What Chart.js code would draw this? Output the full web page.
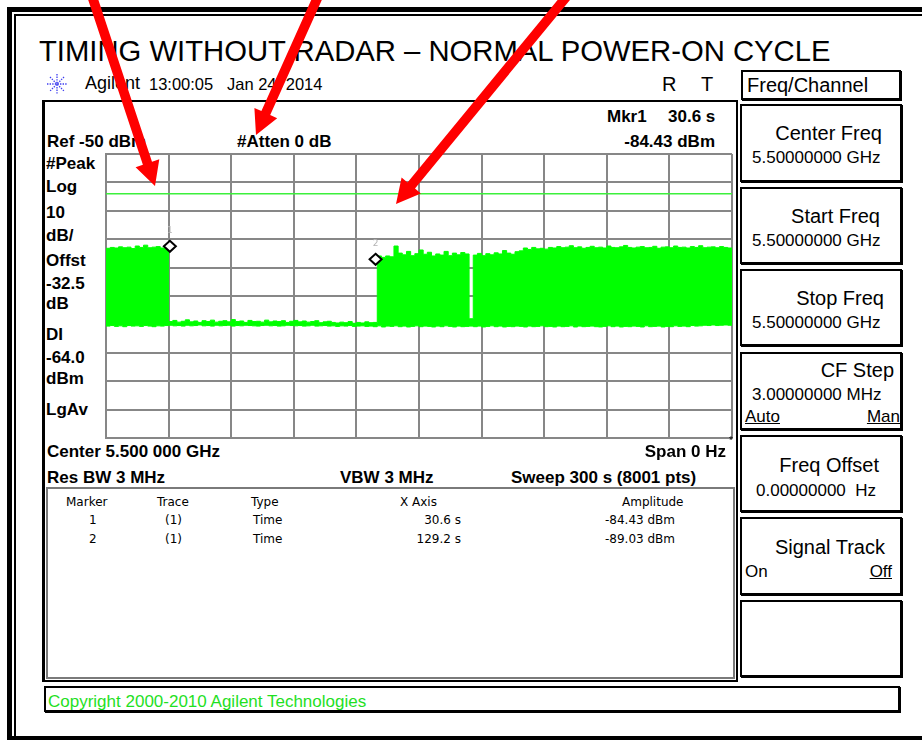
<!DOCTYPE html>
<html>
<head>
<meta charset="utf-8">
<title>Timing without radar - normal power-on cycle</title>
<script src="https://cdn.jsdelivr.net/npm/chart.js@4.4.1/dist/chart.umd.min.js"></script>
<style>
  html, body { margin: 0; padding: 0; background: #fff; overflow: hidden; width: 922px; height: 740px; }
  #page { position: relative; width: 922px; height: 740px; overflow: hidden;
          font-family: "Liberation Sans", Arial, sans-serif; color: #000; }
  .t { position: absolute; white-space: nowrap; line-height: 1; }
  .ann { font-weight: bold; font-size: 17px; }
  .tbl { font-family: "DejaVu Sans", sans-serif; font-size: 12px; }
  .kt { font-size: 20px; }
  .kv { font-size: 17px; }
  .u { text-decoration: underline; }
  .box { position: absolute; box-sizing: border-box; }
  .key { left: 740px; width: 162px; border: 2px solid #000; box-shadow: 1px 1px 0 #000; }
</style>
</head>
<body>
<div id="page">
  <!-- outer frame of the pasted screenshot -->
  <div class="box" style="left:7px;top:7px;width:915px;height:733px;border-left:5px solid #000;border-top:5px solid #000;"></div>
  <div class="box" style="left:14px;top:14px;width:908px;height:726px;border-left:2px solid #000;border-top:2px solid #000;"></div>
  <div class="box" style="left:7px;top:736px;width:915px;height:4px;background:#000;"></div>

  <div class="t" style="left:39px;top:37px;font-size:29.25px;">TIMING WITHOUT RADAR – NORMAL POWER-ON CYCLE</div>

  <svg class="t" style="left:46px;top:73px;" width="22" height="22" viewBox="0 0 22 22">
    <g stroke="#3d3df0" stroke-width="1.3" stroke-dasharray="1.4 1.2">
      <line x1="11" y1="1" x2="11" y2="21"/><line x1="1" y1="11" x2="21" y2="11"/>
      <line x1="4" y1="4" x2="18" y2="18"/><line x1="18" y1="4" x2="4" y2="18"/>
    </g>
  </svg>
  <div class="t" style="left:85px;top:74.2px;font-size:18px;">Agilent</div>
  <div class="t" style="left:149px;top:76.2px;font-size:16.5px;">13:00:05</div>
  <div class="t" style="left:227px;top:76.2px;font-size:16.5px;">Jan 24, 2014</div>
  <div class="t" style="left:662px;top:74.2px;font-size:20px;">R</div>
  <div class="t" style="left:701px;top:74.2px;font-size:20px;">T</div>

  <!-- instrument display frame -->
  <div class="box" style="left:42px;top:100px;width:696px;height:582px;border:2px solid #000;border-left-width:3px;"></div>
  <div class="box" style="left:46px;top:487px;width:689px;height:192px;border:2px solid #7a7a7a;"></div>

  <div class="t ann" style="left:607px;top:107.5px;">Mkr1</div>
  <div class="t ann" style="left:668px;top:107.5px;">30.6 s</div>
  <div class="t ann" style="right:207px;top:132.5px;">-84.43 dBm</div>
  <div class="t ann" style="left:47px;top:132.7px;">Ref -50 dBm</div>
  <div class="t ann" style="left:237px;top:132.7px;">#Atten 0 dB</div>

  <div class="t ann" style="left:46px;top:155.3px;">#Peak</div>
  <div class="t ann" style="left:46px;top:178.2px;">Log</div>
  <div class="t ann" style="left:46px;top:203.7px;">10</div>
  <div class="t ann" style="left:46px;top:226.7px;">dB/</div>
  <div class="t ann" style="left:46px;top:251.7px;">Offst</div>
  <div class="t ann" style="left:46px;top:275px;">-32.5</div>
  <div class="t ann" style="left:46px;top:295.2px;">dB</div>
  <div class="t ann" style="left:46px;top:325.7px;">DI</div>
  <div class="t ann" style="left:46px;top:348.7px;">-64.0</div>
  <div class="t ann" style="left:46px;top:369.7px;">dBm</div>
  <div class="t ann" style="left:46px;top:400.7px;">LgAv</div>

  <canvas id="trace" width="630" height="288" style="position:absolute;left:104px;top:152px;"></canvas>

  <div class="t ann" style="left:47px;top:442.7px;">Center 5.500 000 GHz</div>
  <div class="t ann" style="right:196px;top:442.7px;">Span 0 Hz</div>
  <div class="t" style="left:729px;top:436px;font-size:10px;">*</div>
  <div class="t ann" style="left:47px;top:468.7px;">Res BW 3 MHz</div>
  <div class="t ann" style="left:340px;top:468.7px;">VBW 3 MHz</div>
  <div class="t ann" style="left:511px;top:468.7px;">Sweep 300 s (8001 pts)</div>

  <!-- marker table -->
  <div class="t tbl" style="left:66px;top:496.2px;">Marker</div>
  <div class="t tbl" style="left:157px;top:496.2px;">Trace</div>
  <div class="t tbl" style="left:251px;top:496.2px;">Type</div>
  <div class="t tbl" style="left:400px;top:496.2px;">X Axis</div>
  <div class="t tbl" style="left:622px;top:496.2px;">Amplitude</div>
  <div class="t tbl" style="left:89px;top:514.2px;">1</div>
  <div class="t tbl" style="left:165px;top:514.2px;">(1)</div>
  <div class="t tbl" style="left:253px;top:514.2px;">Time</div>
  <div class="t tbl" style="right:461px;top:514.2px;">30.6 s</div>
  <div class="t tbl" style="left:605px;top:514.2px;">-84.43 dBm</div>
  <div class="t tbl" style="left:89px;top:533.2px;">2</div>
  <div class="t tbl" style="left:165px;top:533.2px;">(1)</div>
  <div class="t tbl" style="left:253px;top:533.2px;">Time</div>
  <div class="t tbl" style="right:461px;top:533.2px;">129.2 s</div>
  <div class="t tbl" style="left:605px;top:533.2px;">-89.03 dBm</div>

  <!-- softkey panel -->
  <div class="box" style="left:741px;top:70px;width:160px;height:30px;border:2px solid #000;box-shadow:1px 1px 0 #000;"></div>
  <div class="t" style="left:747px;top:74.7px;font-size:20px;">Freq/Channel</div>

  <div class="box key" style="top:104px;height:78px;"></div>
  <div class="box key" style="top:187px;height:77px;"></div>
  <div class="box key" style="top:269px;height:77px;"></div>
  <div class="box key" style="top:352px;height:78px;"></div>
  <div class="box key" style="top:435px;height:77px;"></div>
  <div class="box key" style="top:517px;height:78px;"></div>
  <div class="box key" style="top:600px;height:77px;"></div>

  <div class="t kt" style="right:40px;top:123.2px;">Center Freq</div>
  <div class="t kv" style="left:752px;top:148.7px;">5.50000000 GHz</div>
  <div class="t kt" style="right:42px;top:206.2px;">Start Freq</div>
  <div class="t kv" style="left:752px;top:231.7px;">5.50000000 GHz</div>
  <div class="t kt" style="right:38px;top:288.2px;">Stop Freq</div>
  <div class="t kv" style="left:752px;top:313.7px;">5.50000000 GHz</div>
  <div class="t kt" style="right:28px;top:360.2px;">CF Step</div>
  <div class="t kv" style="left:752px;top:385.7px;">3.00000000 MHz</div>
  <div class="t kv u" style="left:745px;top:407.7px;">Auto</div>
  <div class="t kv u" style="right:22px;top:407.7px;">Man</div>
  <div class="t kt" style="right:43px;top:455.2px;">Freq Offset</div>
  <div class="t kv" style="left:756px;top:481.7px;">0.00000000&nbsp; Hz</div>
  <div class="t kt" style="right:37px;top:537.2px;">Signal Track</div>
  <div class="t kv" style="left:745px;top:562.7px;">On</div>
  <div class="t kv u" style="right:30px;top:562.7px;">Off</div>

  <div class="box" style="left:44px;top:686px;width:856px;height:26px;border:2px solid #000;box-shadow:1px 1px 0 #000;"></div>
  <div class="t" style="left:48px;top:692.7px;font-size:17px;color:#1fe01f;">Copyright 2000-2010 Agilent Technologies</div>

  <svg id="arrows" width="922" height="740" style="position:absolute;left:0;top:0;pointer-events:none;"></svg>
</div>

<script>
// sweep setup (time domain, span 0 Hz)
const sweepTime = 300;      // s
const binWidth = 2;         // s covered by each peak/floor envelope bin
const refLevel = -50;       // dBm, top of screen
const dbPerDiv = 10;
const divisions = 10;
const displayLine = -64.0;  // dBm

// peak envelope of the trace, one value per 2 s bin (dBm)
const peakEnv = [
  -83.2, -82.9, -83.1, -82.7, -83.0, -82.8, -83.3, -82.4, -82.9, -82.1,
  -83.0, -82.8, -82.6, -83.1, -82.9,
  -109.0, -108.6, -109.2, -108.9, -108.4, -109.1, -108.8, -109.3, -108.7, -109.0,
  -108.5, -109.2, -108.9, -108.7, -109.1, -108.3, -109.0, -108.8, -109.3, -108.6,
  -109.0, -108.9, -109.2, -108.5, -109.1, -108.8, -109.0, -108.7, -109.3, -108.9,
  -108.6, -109.1, -108.8, -109.2, -109.0, -108.7, -109.4, -109.1, -108.9, -109.3,
  -109.5, -109.2, -109.4, -109.0, -109.6, -109.3, -109.5, -109.1, -109.4,
  -109.3, -85.9, -86.4, -85.9, -86.2, -82.4, -84.9, -85.5, -84.3, -85.8,
  -85.1, -83.8, -85.3, -84.6, -85.9, -85.2, -85.6, -84.3, -85.8, -84.9,
  -85.5, -84.7, -85.2,
  -108.0,
  -85.6, -85.0, -85.8, -85.1, -85.5, -84.8, -85.2, -84.0, -84.9, -85.3,
  -84.4, -84.1, -83.1, -83.6, -82.9, -83.4, -83.2, -83.5,
  -82.9, -83.1, -82.6, -83.0, -82.8, -82.3, -83.0, -82.7, -83.2, -82.9,
  -82.5, -83.0, -82.8, -83.1, -82.4, -82.9, -83.0, -82.7, -82.2, -82.9,
  -83.1, -82.8, -82.6, -83.0, -82.9, -82.5, -83.2, -82.8, -82.7, -83.0,
  -82.4, -82.9, -82.8, -83.1, -82.6, -82.9, -82.3, -83.0, -82.8, -82.7,
  -83.0, -82.6, -82.9, -83.1
];

// floor (minimum) envelope of the trace, same bins (dBm)
const floorEnv = [
  -110.6, -110.4, -110.7, -110.5, -110.8, -110.4, -110.6, -110.5, -110.7, -110.4,
  -110.6, -110.8, -110.5, -110.6, -110.4,
  -110.3, -110.5, -110.4, -110.6, -110.3, -110.5, -110.4, -110.2, -110.5, -110.4,
  -110.6, -110.3, -110.5, -110.4, -110.3, -110.6, -110.4, -110.5, -110.3, -110.4,
  -110.5, -110.6, -110.4, -110.3, -110.5, -110.4, -110.6, -110.5, -110.3, -110.4,
  -110.5, -110.4, -110.6, -110.5, -110.3, -110.6, -110.5, -110.4, -110.6, -110.5,
  -110.7, -110.5, -110.6, -110.4, -110.7, -110.6, -110.5, -110.7, -110.6,
  -110.8, -110.5, -110.9, -110.6, -110.7, -110.5, -110.8, -110.6, -110.9, -110.7,
  -110.5, -110.8, -110.6, -110.7, -110.9, -110.6, -110.8, -110.5, -110.7, -110.9,
  -110.6, -110.8, -110.7,
  -110.6,
  -110.8, -110.6, -110.9, -110.7, -110.5, -110.8, -110.6, -110.9, -110.7, -110.8,
  -110.6, -110.7, -110.9, -110.6, -110.8, -110.7, -110.5, -110.8,
  -110.7, -110.9, -110.6, -110.8, -110.7, -110.5, -110.9, -110.6, -110.8, -110.7,
  -110.6, -110.8, -110.9, -110.7, -110.5, -110.8, -110.6, -110.9, -110.7, -110.8,
  -110.6, -110.7, -110.9, -110.5, -110.8, -110.7, -110.6, -110.9, -110.7, -110.8,
  -110.5, -110.7, -110.6, -110.8, -110.4, -110.6, -110.5, -110.3, -110.4, -110.2,
  -110.4, -110.3, -110.2, -110.3
];

// markers
const markerNames = ['1', '2'];
const markerTimes = [30.6, 129.2];      // s
const markerAmps = [-84.43, -89.03];    // dBm

const traceGreen = '#00ff00';
const gridGrey = '#878787';

// with stepped lines each value is held up to its own x, so a bin is
// placed at its right edge; the sweep start repeats the first bin
function binPoints(env) {
  const pts = [{ x: 0, y: env[0] }];
  env.forEach((v, i) => pts.push({ x: (i + 1) * binWidth, y: v }));
  return pts;
}

// diamond markers with their number above, like the analyser draws them
const markerPlugin = {
  id: 'markers',
  afterDatasetsDraw(chart) {
    const ctx = chart.ctx;
    const xs = chart.scales.x, ys = chart.scales.y;
    ctx.save();
    markerTimes.forEach((t, i) => {
      const px = xs.getPixelForValue(t);
      const py = ys.getPixelForValue(markerAmps[i]);
      const cy = py - 5.5;
      ctx.beginPath();
      ctx.moveTo(px, cy - 5.5);
      ctx.lineTo(px + 6, cy);
      ctx.lineTo(px, cy + 5.5);
      ctx.lineTo(px - 6, cy);
      ctx.closePath();
      ctx.fillStyle = '#fff';
      ctx.fill();
      ctx.lineWidth = 2;
      ctx.strokeStyle = '#000';
      ctx.stroke();
      ctx.fillStyle = '#b4b4b4';
      ctx.font = '9px "DejaVu Sans", sans-serif';
      ctx.textAlign = 'center';
      ctx.textBaseline = 'middle';
      ctx.fillText(markerNames[i], px, cy - 16);
    });
    ctx.restore();
  }
};

new Chart(document.getElementById('trace'), {
  type: 'line',
  data: {
    datasets: [
      {
        label: 'Peak',
        data: binPoints(peakEnv),
        stepped: 'after',
        borderColor: traceGreen,
        backgroundColor: traceGreen,
        borderWidth: 1,
        pointRadius: 0,
        fill: '+1'
      },
      {
        label: 'Floor',
        data: binPoints(floorEnv),
        stepped: 'after',
        borderColor: traceGreen,
        borderWidth: 1,
        pointRadius: 0,
        fill: false
      },
      {
        label: 'Display line',
        data: [{ x: 0, y: displayLine }, { x: sweepTime, y: displayLine }],
        borderColor: '#3cf03c',
        borderWidth: 1.5,
        pointRadius: 0,
        fill: false
      }
    ]
  },
  options: {
    responsive: false,
    animation: false,
    layout: { padding: 2 },
    plugins: {
      legend: { display: false },
      tooltip: { enabled: false }
    },
    scales: {
      x: {
        type: 'linear',
        min: 0,
        max: sweepTime,
        ticks: { display: false, stepSize: sweepTime / divisions },
        grid: { color: gridGrey, lineWidth: 2, drawTicks: false },
        border: { color: gridGrey, width: 2 }
      },
      y: {
        min: refLevel - dbPerDiv * divisions,
        max: refLevel,
        ticks: { display: false, stepSize: dbPerDiv },
        grid: { color: gridGrey, lineWidth: 2, drawTicks: false },
        border: { color: gridGrey, width: 2 }
      }
    }
  },
  plugins: [markerPlugin]
});

// red annotation arrows pasted over the screenshot
function arrowPoints(x1, y1, x2, y2) {
  const dx = x2 - x1, dy = y2 - y1;
  const len = Math.hypot(dx, dy);
  const ux = dx / len, uy = dy / len;
  const nx = -uy, ny = ux;
  const shaft = 4.8, headW = 12.5, headL = 24;
  const bx = x2 - ux * headL, by = y2 - uy * headL;
  const p = [
    [x1 + nx * shaft, y1 + ny * shaft],
    [bx + nx * shaft, by + ny * shaft],
    [bx + nx * headW, by + ny * headW],
    [x2, y2],
    [bx - nx * headW, by - ny * headW],
    [bx - nx * shaft, by - ny * shaft],
    [x1 - nx * shaft, y1 - ny * shaft]
  ];
  return p.map(q => q[0].toFixed(1) + ',' + q[1].toFixed(1)).join(' ');
}
const arrowSvg = document.getElementById('arrows');
[[90, -10, 155, 186], [321, -10, 256, 135], [572, -10, 396, 204]].forEach(a => {
  const poly = document.createElementNS('http://www.w3.org/2000/svg', 'polygon');
  poly.setAttribute('points', arrowPoints(a[0], a[1], a[2], a[3]));
  poly.setAttribute('fill', '#ff0000');
  arrowSvg.appendChild(poly);
});
</script>
</body>
</html>
